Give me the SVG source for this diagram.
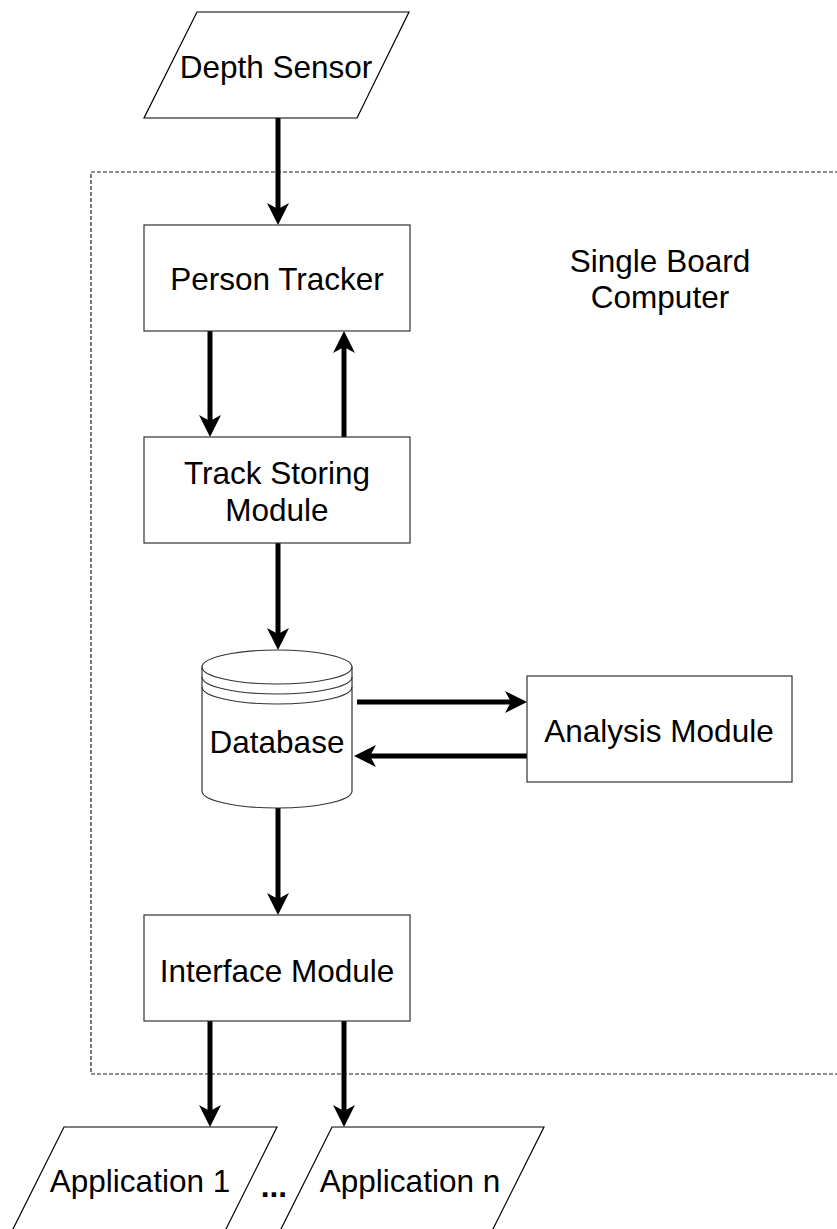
<svg xmlns="http://www.w3.org/2000/svg" width="837" height="1229" viewBox="0 0 837 1229">
<style>
.shape{fill:#fff;stroke:#333;stroke-width:1.2}
.para{fill:#fff;stroke:#000;stroke-width:1.2}
.lbl{font-family:"Liberation Sans",Arial,Helvetica,sans-serif;font-size:31.5px;fill:#000;text-anchor:middle}
.conn{fill:none;stroke:#000;stroke-width:5}
.boundary{fill:none;stroke:#222;stroke-width:1.2;stroke-dasharray:4 2}
</style>
<defs>
<marker id="arrow" viewBox="0 0 22 22" markerWidth="22" markerHeight="22" refX="6" refY="11" orient="auto" markerUnits="userSpaceOnUse">
<path d="M0,0 L22,11 L0,22 L6,11 Z" fill="#000"/>
</marker>
</defs>
<rect x="0" y="0" width="837" height="1229" fill="#fff"/>
<g id="single-board-computer">
<rect class="boundary" x="91" y="172" width="820" height="902"/>
<text class="lbl" x="660" y="272">Single Board</text>
<text class="lbl" x="660" y="308">Computer</text>
</g>
<g id="connectors">
<path class="conn" marker-end="url(#arrow)" d="M278,118 L278,209"/>
<path class="conn" marker-end="url(#arrow)" d="M210,331 L210,421"/>
<path class="conn" marker-end="url(#arrow)" d="M344,437 L344,347"/>
<path class="conn" marker-end="url(#arrow)" d="M278,543 L278,634"/>
<path class="conn" marker-end="url(#arrow)" d="M357,702 L511,702"/>
<path class="conn" marker-end="url(#arrow)" d="M527,756 L370,756"/>
<path class="conn" marker-end="url(#arrow)" d="M278,808 L278,899"/>
<path class="conn" marker-end="url(#arrow)" d="M210,1021 L210,1111"/>
<path class="conn" marker-end="url(#arrow)" d="M344,1021 L344,1111"/>
</g>
<g id="depth-sensor">
<polygon class="para" points="197,12 409,12 357,118 144,118"/>
<text class="lbl" x="276" y="78">Depth Sensor</text>
</g>
<g id="person-tracker">
<rect class="shape" x="144" y="225" width="266" height="106"/>
<text class="lbl" x="277" y="290">Person Tracker</text>
</g>
<g id="track-storing-module">
<rect class="shape" x="144" y="437" width="266" height="106"/>
<text class="lbl" x="277" y="484">Track Storing</text>
<text class="lbl" x="277" y="521">Module</text>
</g>
<g id="database">
<path class="shape" d="M202,667 A75,17 0 0 1 352,667 L352,791 A75,17 0 0 1 202,791 Z"/>
<path class="shape" d="M202,667 A75,17 0 0 0 352,667 M202,677 A75,17 0 0 0 352,677 M202,687 A75,17 0 0 0 352,687" style="fill:none"/>
<text class="lbl" x="277" y="753">Database</text>
</g>
<g id="analysis-module">
<rect class="shape" x="527" y="676" width="265" height="106"/>
<text class="lbl" x="659" y="742">Analysis Module</text>
</g>
<g id="interface-module">
<rect class="shape" x="144" y="915" width="266" height="106"/>
<text class="lbl" x="277" y="982">Interface Module</text>
</g>
<g id="application-1">
<polygon class="para" points="64,1127 277,1127 224,1233 11,1233"/>
<text class="lbl" x="140" y="1192">Application 1</text>
</g>
<g id="ellipsis">
<text class="lbl" x="274" y="1197" style="font-weight:bold">...</text>
</g>
<g id="application-n">
<polygon class="para" points="332,1127 544,1127 491,1233 279,1233"/>
<text class="lbl" x="410" y="1192">Application n</text>
</g>
</svg>
